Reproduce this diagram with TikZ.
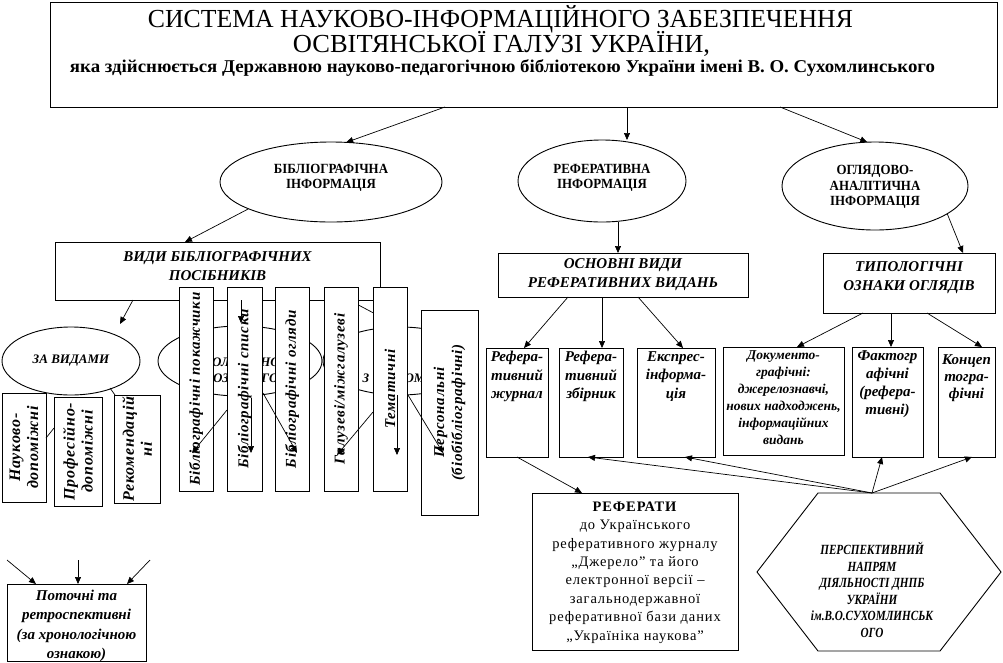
\documentclass[tikz,border=0pt]{standalone}
\usepackage{fontspec}
\setmainfont{Liberation Serif}
\newfontfamily\condf[FakeStretch=0.8]{Liberation Serif}
\newfontfamily\ellf[FakeStretch=0.92]{Liberation Serif}
\newfontfamily\spacedf[LetterSpace=6]{Liberation Serif}
\newfontfamily\bisp[LetterSpace=5]{Liberation Serif}
\usetikzlibrary{arrows.meta,shapes.geometric}
\tikzset{
  box/.style={draw, fill=white, line width=0.9pt, inner sep=0pt, outer sep=0pt},
  ell/.style={box, ellipse},
  arr/.style={line width=0.7pt, -{Triangle[length=7pt,width=6pt]}},
  ln/.style={line width=0.7pt},
  vt/.style={box, rotate=90, align=center, font=\bisp\bfseries\itshape\fontsize{15}{18}\selectfont},
  vtl/.style={box, rotate=90, align=center, font=\bisp\bfseries\itshape\fontsize{16}{18}\selectfont},
  bi/.style={inner sep=0pt, align=center, font=\bfseries\itshape\fontsize{15}{19}\selectfont},
  lt/.style={inner sep=0pt, align=center, font=\bfseries\itshape\fontsize{15}{18.5}\selectfont},
  frag/.style={inner sep=0pt, font=\bfseries\itshape\fontsize{13}{15}\selectfont},
  etx/.style={inner sep=0pt, align=center, font=\ellf\bfseries\fontsize{14}{15.5}\selectfont},
}
\begin{document}
\begin{tikzpicture}[x=1pt,y=-1pt]
\useasboundingbox (0,0) rectangle (1003,662);
% title
\node[box, minimum width=947, minimum height=105] (top) at (523.5,54.5) {};
\node[inner sep=0pt] (t1) at (500.5,19) {\resizebox{705pt}{\height}{\fontsize{26}{26}\selectfont СИСТЕМА НАУКОВО-ІНФОРМАЦІЙНОГО ЗАБЕЗПЕЧЕННЯ}};
\node[inner sep=0pt] (t2) at (501.5,43.5) {\resizebox{417pt}{\height}{\fontsize{26}{26}\selectfont ОСВІТЯНСЬКОЇ ГАЛУЗІ УКРАЇНИ,}};
\node[inner sep=0pt] (t3) at (502.5,67.7) {\resizebox{865pt}{\height}{\bfseries\fontsize{18}{18}\selectfont яка здійснюється Державною науково-педагогічною бібліотекою України імені В. О. Сухомлинського}};
% ellipses
\node[ell, minimum width=222, minimum height=80] (e1) at (331,182) {};
\node[etx] (e1t) at (331,178) {БІБЛІОГРАФІЧНА\\ІНФОРМАЦІЯ};
\node[ell, minimum width=168, minimum height=82] (e2) at (602,181) {};
\node[etx] (e2t) at (602,178) {РЕФЕРАТИВНА\\ІНФОРМАЦІЯ};
\node[ell, minimum width=186, minimum height=88] (e3) at (875,186) {};
\node[etx] (e3t) at (875,187) {ОГЛЯДОВО-\\АНАЛІТИЧНА\\ІНФОРМАЦІЯ};
\draw[arr] ([xshift=-78.5]top.south) -- (e1.69);
\draw[arr] ([xshift=103.5]top.south) -- ++(0,33);
\draw[arr] ([xshift=256.5]top.south) -- (e3.100);
% vidy
\node[box, minimum width=325, minimum height=58] (vidy) at (217.5,271) {};
\node[bi] (vidyt) at (217.5,266.5) {ВИДИ БІБЛІОГРАФІЧНИХ\\ПОСІБНИКІВ};
\draw[arr] (e1.198) -- ([xshift=-32.5]vidy.north);
% right headers
\node[box, bi, minimum width=250, minimum height=44] (osn) at (623,275) {ОСНОВНІ ВИДИ\\РЕФЕРАТИВНИХ ВИДАНЬ};
\draw[arr] ([xshift=16]e2.south) -- ([xshift=-5]osn.north);
\node[box, minimum width=172, minimum height=60] (typ) at (909,283) {};
\node[bi] (typt) at (909,277.5) {ТИПОЛОГІЧНІ\\ОЗНАКИ ОГЛЯДІВ};
\draw[arr] (e3.339) -- ([xshift=54]typ.north);
% right leaves
\node[box, minimum width=62, minimum height=109] (r1) at (517,402.5) {};
\node[lt, anchor=north] (r1t) at ([yshift=-3pt]r1.north) {Рефера-\\тивний\\журнал};
\node[box, minimum width=64, minimum height=109] (r2) at (591,402.5) {};
\node[lt, anchor=north] (r2t) at ([yshift=-3pt]r2.north) {Рефера-\\тивний\\збірник};
\node[box, minimum width=78, minimum height=109] (r3) at (676,402.5) {};
\node[lt, anchor=north] (r3t) at ([yshift=-3pt]r3.north) {Експрес-\\інформа-\\ція};
\node[box, minimum width=121, minimum height=108] (d1) at (783.5,401) {};
\node[lt, anchor=north, font=\bfseries\itshape\fontsize{13.5}{17}\selectfont] (d1t) at ([yshift=-3pt]d1.north) {Документо-\\графічні:\\джерелознавчі,\\нових надходжень,\\інформаційних\\видань};
\node[box, minimum width=71, minimum height=110] (d2) at (887.5,402) {};
\node[lt, anchor=north, font=\bfseries\itshape\fontsize{15}{18}\selectfont] (d2t) at ([yshift=-3pt]d2.north) {Фактогр\\афічні\\(рефера-\\тивні)};
\node[box, minimum width=57, minimum height=110] (d3) at (966.5,402) {};
\node[lt, anchor=north, font=\bfseries\itshape\fontsize{15}{17}\selectfont] (d3t) at ([yshift=-7pt]d3.north) {Концеп\\тогра-\\фічні};
\draw[arr] ([xshift=-55]osn.south) -- ([xshift=7]r1.north);
\draw[arr] ([xshift=-21]osn.south) -- ([xshift=11]r2.north);
\draw[arr] ([xshift=15]osn.south) -- ([xshift=7]r3.north);
\draw[arr] ([xshift=-46]typ.south) -- ([xshift=13.5]d1.north);
\draw[arr] ([xshift=-18]typ.south) -- ([xshift=3.5]d2.north);
\draw[arr] ([xshift=18]typ.south) -- ([xshift=15.5]d3.north);
% referaty
\node[box, minimum width=206, minimum height=157] (ref) at (635,571.5) {};
\node[inner sep=0pt, align=center, font=\spacedf\fontsize{14.5}{18.4}\selectfont] (reft) at (635,572.5) {\textbf{РЕФЕРАТИ}\\до Українського\\реферативного журналу\\„Джерело” та його\\електронної версії –\\загальнодержавної\\реферативної бази даних\\„Україніка наукова”};
\draw[arr] (r1.south) -- ([xshift=-53]ref.north);
% hexagon
\coordinate (h1) at (757,572);
\coordinate (h2) at (818,493);
\coordinate (h3) at (940,493);
\coordinate (h4) at (1001,572);
\coordinate (h5) at (940,651);
\coordinate (h6) at (818,651);
\draw[ln, line width=0.9pt] (h1) -- (h2) -- (h3) -- (h4) -- (h5) -- (h6) -- cycle;
\node[inner sep=0pt, align=center, font=\condf\bfseries\itshape\fontsize{14}{16.5}\selectfont] (hex) at (872,590) {ПЕРСПЕКТИВНИЙ\\НАПРЯМ\\ДІЯЛЬНОСТІ ДНПБ\\УКРАЇНИ\\ім.В.О.СУХОМЛИНСЬК\\ОГО};
\coordinate (hx) at (872,493);
\draw[arr] (hx) -- ([xshift=-3]r2.south);
\draw[arr] (hx) -- ([xshift=9]r3.south);
\draw[arr] (hx) -- ([xshift=-5.5]d2.south);
\draw[arr] (hx) -- ([xshift=5.5]d3.south);
% left sub-ellipses
\coordinate (zvt) at (120,324);
\draw[arr] ([xshift=-84.5]vidy.south) -- (zvt);
\node[ell, minimum width=138, minimum height=68, font=\bfseries\itshape\fontsize{13}{15}\selectfont] (zv) at (71,361) {ЗА ВИДАМИ};
\node[ell, minimum width=164, minimum height=70] (ea) at (240,361) {};
\node[ell, minimum width=154, minimum height=68] (eb) at (400,361) {};
\node[frag] (fa1) at (221,362) {ОЛ};
\node[frag] (fa2) at (270,362) {НО};
\node[frag] (fa3) at (221,378) {ОЗ};
\node[frag] (fa4) at (270,378) {ГО};
\node[frag] (fb1) at (366,378) {З};
\node[frag] (fb2) at (415,378) {ОМ};
\draw[arr] ([xshift=131.5]vidy.south) -- (eb.north);
% vertical boxes
\node[vt, minimum width=204, minimum height=34] (b1) at (196,389) {Бібліографічні покажчики};
\node[vt, minimum width=204, minimum height=35] (b2) at (244.5,389) {Бібліографічні списки};
\node[vt, minimum width=204, minimum height=34] (b3) at (292,389) {Бібліографічні огляди};
\node[vt, minimum width=204, minimum height=34] (b4) at (341,389) {Галузеві/міжгалузеві};
\node[vt, minimum width=204, minimum height=34] (b5) at (390,389) {Тематичні};
\node[vt, minimum width=205, minimum height=57] (b6) at (449.5,412.5) {Персональні\\(біобібліографічні)};
\node[vtl, minimum width=109, minimum height=44] (n1) at (24,447.5) {Науково-\\допоміжні};
\node[vtl, minimum width=109, minimum height=48] (n2) at (78,451.5) {Професійно-\\допоміжні};
\node[vtl, minimum width=108, minimum height=46] (n3) at (137,449) {Рекомендацій\\ні};
% connectors over boxes
\draw[arr] ([xshift=23.5]vidy.south) -- ++(0,23);
\coordinate (s1) at (227,410); \coordinate (u1) at (192,453);
\coordinate (s2) at (251,398); \coordinate (u2) at (251,453);
\coordinate (s3) at (263,393); \coordinate (u3) at (297,453);
\coordinate (s4) at (373,412); \coordinate (u4) at (337,455);
\coordinate (s5) at (397,395); \coordinate (u5) at (397,455);
\coordinate (s6) at (408,395); \coordinate (u6) at (443,453);
\draw[arr] (s1) -- (u1);
\draw[arr] (s2) -- (u2);
\draw[arr] (s3) -- (u3);
\draw[arr] (s4) -- (u4);
\draw[arr] (s5) -- (u5);
\draw[arr] (s6) -- (u6);
\coordinate (k1) at (54,428); \coordinate (k2) at (46,438);
\coordinate (k3) at (110,388); \coordinate (k4) at (115,395);
\draw[ln] (k1) -- (k2);
\draw[ln] (k3) -- (k4);
% potochni
\node[box, minimum width=139, minimum height=77] (pot) at (76.5,622.5) {};
\node[inner sep=0pt, align=center, font=\bfseries\itshape\fontsize{15}{19.3}\selectfont] (pott) at (76.5,626) {Поточні та\\ретроспективні\\(за хронологічною\\ознакою)};
\coordinate (q1) at (7,560);
\coordinate (q2) at (78,560);
\coordinate (q3) at (150,560);
\draw[arr] (q1) -- ([xshift=-40.5]pot.north);
\draw[arr] (q2) -- ([xshift=1.5]pot.north);
\draw[arr] (q3) -- ([xshift=50.5]pot.north);
\end{tikzpicture}
\end{document}
